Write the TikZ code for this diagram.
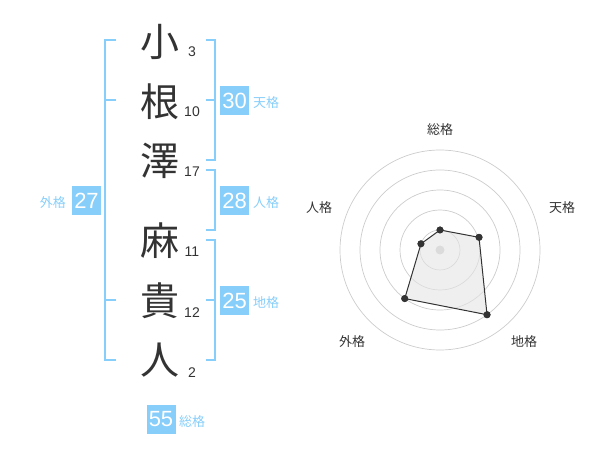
\documentclass[tikz,border=0pt]{standalone}
\usepackage{fontspec}
\setmainfont{Liberation Sans}
\newfontfamily\cjk{Noto Sans CJK JP}
\definecolor{sky}{RGB}{135,206,250}
\definecolor{ink}{RGB}{51,51,51}
\definecolor{ring}{RGB}{204,204,204}
\tikzset{
  kanji/.style={anchor=base, inner sep=0pt, text=ink, font=\cjk\fontsize{39bp}{39bp}\selectfont},
  strokes/.style={anchor=base, inner sep=0pt, text=ink, font=\fontsize{14bp}{14bp}\selectfont},
  bracket/.style={draw=sky, line width=2bp},
  scorebox/.style={fill=sky, text=white, minimum width=29bp, minimum height=29bp, inner sep=0pt, font=\fontsize{22bp}{22bp}\selectfont},
  scorelabel/.style={text=sky, inner sep=0pt, font=\cjk\fontsize{13bp}{13bp}\selectfont},
  axislabel/.style={text=ink, inner sep=0pt, font=\cjk\fontsize{13bp}{13bp}\selectfont},
  dot/.style={circle, fill=ink, inner sep=0pt, minimum size=7bp},
}
\begin{document}
\begin{tikzpicture}[x=1bp, y=-1bp]
\useasboundingbox (0,0) rectangle (600,470);
% characters
\node[kanji] (k1) at (160,56.5) {小};
\node[kanji] (k2) at (160,116.5) {根};
\node[kanji] (k3) at (160,175.5) {澤};
\node[kanji] (k4) at (160,255.5) {麻};
\node[kanji] (k5) at (160,315.5) {貴};
\node[kanji] (k6) at (160,374) {人};
\node[strokes] (n1) at (192,57) {3};
\node[strokes] (n2) at (192,117) {10};
\node[strokes] (n3) at (192,177) {17};
\node[strokes] (n4) at (192,257) {11};
\node[strokes] (n5) at (192,317) {12};
\node[strokes] (n6) at (192,377) {2};
% left bracket (外格)
\coordinate (la) at (116,40);
\coordinate (lb) at (105,40);
\coordinate (lc) at (105,360);
\coordinate (ld) at (116,360);
\draw[bracket] (la) -- (lb) -- (lc) -- (ld);
\coordinate (lm1) at (105,100);
\coordinate (lm1e) at (116,100);
\coordinate (lm2) at (105,300);
\coordinate (lm2e) at (116,300);
\draw[bracket] (lm1) -- (lm1e);
\draw[bracket] (lm2) -- (lm2e);
% right bracket 天格
\coordinate (ta) at (206,40);
\coordinate (tb) at (215,40);
\coordinate (tc) at (215,160);
\coordinate (td) at (206,160);
\coordinate (tm) at (215,100);
\coordinate (tme) at (206,100);
\draw[bracket] (ta) -- (tb) -- (tc) -- (td);
\draw[bracket] (tm) -- (tme);
% right bracket 人格
\coordinate (ja) at (206,170);
\coordinate (jb) at (215,170);
\coordinate (jc) at (215,230);
\coordinate (jd) at (206,230);
\draw[bracket] (ja) -- (jb) -- (jc) -- (jd);
% right bracket 地格
\coordinate (ca) at (206,240);
\coordinate (cb) at (215,240);
\coordinate (cc) at (215,360);
\coordinate (cd) at (206,360);
\coordinate (cm) at (215,300);
\coordinate (cme) at (206,300);
\draw[bracket] (ca) -- (cb) -- (cc) -- (cd);
\draw[bracket] (cm) -- (cme);
% score boxes
\node[scorebox] (s30) at (234.5,100.5) {30};
\node[scorelabel, anchor=west] (l30) at (253,103) {天格};
\node[scorebox] (s28) at (234.5,200.5) {28};
\node[scorelabel, anchor=west] (l28) at (253,203) {人格};
\node[scorebox] (s25) at (234.5,300.5) {25};
\node[scorelabel, anchor=west] (l25) at (253,303) {地格};
\node[scorebox] (s27) at (86.5,200.5) {27};
\node[scorelabel, anchor=east] (l27) at (66,203) {外格};
\node[scorebox] (s55) at (161,419) {55};
\node[scorelabel, anchor=west] (l55) at (179,422) {総格};
% radar chart
\coordinate (c) at (440,250);
\foreach \r in {20,40,60,80,100} \draw[ring, line width=0.7bp] (c) circle (\r);
\node[circle, fill=ring, inner sep=0pt, minimum size=9bp] (cd0) at (c) {};
\node[dot] (p1) at ({440+20*sin(0)},{250-20*cos(0)}) {};
\node[dot] (p2) at ({440+41*sin(72)},{250-41*cos(72)}) {};
\node[dot] (p3) at ({440+80*sin(144)},{250-80*cos(144)}) {};
\node[dot] (p4) at ({440+60*sin(216)},{250-60*cos(216)}) {};
\node[dot] (p5) at ({440+20*sin(288)},{250-20*cos(288)}) {};
\fill[black!10, opacity=0.6] (p1.center) -- (p2.center) -- (p3.center) -- (p4.center) -- (p5.center) -- cycle;
\draw[ink, line width=1bp] (p1.center) -- (p2.center) -- (p3.center) -- (p4.center) -- (p5.center) -- cycle;
\foreach \p in {p1,p2,p3,p4,p5} \fill[ink] (\p) circle (3.5);
\node[axislabel] (a1) at (440,130) {総格};
\node[axislabel] (a2) at (562,208) {天格};
\node[axislabel] (a3) at (524,342) {地格};
\node[axislabel] (a4) at (352,342) {外格};
\node[axislabel] (a5) at (319,208) {人格};
\end{tikzpicture}
\end{document}
